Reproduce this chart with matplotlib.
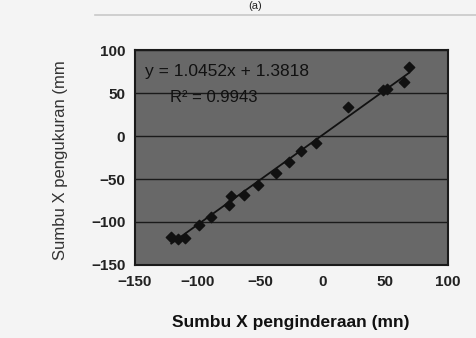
import numpy as np
from matplotlib import pyplot as plt

x_sens = [-121, -116, -110, -99, -89, -75, -73, -63, -52, -37, -27, -17, -5, 20, 48, 51, 65, 69]
y_meas = [-118, -120, -119, -103, -94, -80, -70, -69, -57, -43, -30, -17, -8.5, 34, 53, 55, 63, 80]

slope = 1.0452
icept = 1.3818
eq_text = 'y = 1.0452x + 1.3818'
r2_text = 'R² = 0.9943'

xticks = [-150, -100, -50, 0, 50, 100]
yticks = [-150, -100, -50, 0, 50, 100]

plt.rcParams['font.family'] = ['Liberation Sans', 'DejaVu Sans']

fig = plt.figure(figsize=(4.77, 3.38), dpi=100)
fig.patch.set_facecolor('#f4f4f4')
ax = fig.add_axes([0.283, 0.216, 0.656, 0.636])
ax.set_facecolor('#686868')

ax.set_xlim(-150, 100)
ax.set_ylim(-150, 100)
ax.set_xticks(xticks)
ax.set_yticks(yticks)
ax.tick_params(length=0, labelsize=11, pad=7, colors='#222222')
for lb in ax.get_xticklabels() + ax.get_yticklabels():
    lb.set_fontweight('bold')
ax.yaxis.grid(True, color='#1a1a1a', lw=1.0)
ax.set_axisbelow(True)
for s in ax.spines.values():
    s.set_color('#1a1a1a')
    s.set_linewidth(1.5)

xs = np.array(x_sens)
xl = np.array([xs.min(), xs.max()])
ax.plot(xl, slope * xl + icept, color='#111111', lw=1.3, zorder=2)
ax.scatter(x_sens, y_meas, marker='D', s=28, color='#111111', zorder=3)

ax.text(-142, 70, eq_text, fontsize=12.5, color='#111111')
ax.text(-122, 39, r2_text, fontsize=12, color='#111111')

ax.set_ylabel('Sumbu X pengukuran (mm', fontsize=12, color='#333333')
ax.yaxis.set_label_coords(-0.215, 0.49)

fig.text(0.61, 0.047, 'Sumbu X penginderaan (mn)', ha='center', va='center',
         fontsize=12.5, fontweight='bold', color='#111111')

# scan remnants: caption fragment and faint rule at the top
fig.text(0.535, 0.998, '(a)', ha='center', va='top', fontsize=8, color='#222222')
fig.add_artist(plt.Line2D([0.2, 1.0], [0.955, 0.955], color='#c8c8c8', lw=1.2))

plt.savefig('out.png', dpi=100, facecolor=fig.get_facecolor())
